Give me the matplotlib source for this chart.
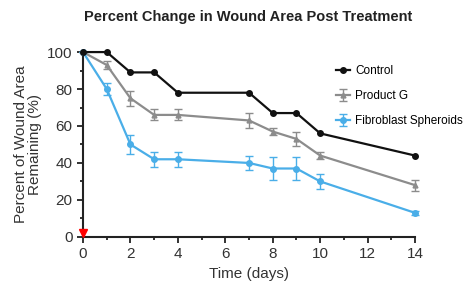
import numpy as np
import matplotlib
matplotlib.use('Agg')
import matplotlib.pyplot as plt
from matplotlib.ticker import MultipleLocator

plt.rcParams['font.family'] = ['Liberation Sans', 'DejaVu Sans']

days = [0, 1, 2, 3, 4, 7, 8, 9, 10, 14]
control = [100, 100, 89, 89, 78, 78, 67, 67, 56, 44]
product_g = [100, 93, 75, 66, 66, 63, 57, 53, 44, 28]
product_g_err = [0, 2, 4, 3, 3, 4, 2, 4, 2, 3]
spheroids = [100, 80, 50, 42, 42, 40, 37, 37, 30, 13]
spheroids_err = [0, 3, 5, 4, 4, 4, 6, 6, 4, 1]

fig = plt.figure(figsize=(4.69, 3.01), dpi=100)
ax = fig.add_axes([0.177, 0.213, 0.708, 0.614])

ax.plot(days, control, color='#111111', marker='o', markersize=4, lw=1.6, label='Control', clip_on=False, zorder=4)
ax.errorbar(days, product_g, yerr=product_g_err, color='#8c8c8c', marker='^', markersize=3.5, lw=1.6,
            capsize=3, elinewidth=1, label='Product G', clip_on=False, zorder=3)
ax.errorbar(days, spheroids, yerr=spheroids_err, color='#4aaee8', marker='o', markersize=4, lw=1.6,
            capsize=3, elinewidth=1, label='Fibroblast Spheroids', clip_on=False, zorder=3)
ax.plot([0], [2], marker='v', color='red', markersize=6, clip_on=False, zorder=5)

ax.set_xlim(0, 14)
ax.set_ylim(0, 100)
ax.xaxis.set_major_locator(MultipleLocator(2))
ax.xaxis.set_minor_locator(MultipleLocator(1))
ax.yaxis.set_major_locator(MultipleLocator(20))
ax.yaxis.set_minor_locator(MultipleLocator(10))
ax.spines['top'].set_visible(False)
ax.spines['right'].set_visible(False)
for s in ['left', 'bottom']:
    ax.spines[s].set_linewidth(1.5)
    ax.spines[s].set_color('#222222')
ax.tick_params(which='major', length=4, width=1.3, labelsize=11, colors='#222222', labelcolor='#333333')
ax.tick_params(which='minor', length=2.5, width=1.3, colors='#222222')

ax.set_xlabel('Time (days)', fontsize=11, color='#333333')
ax.set_ylabel('Percent of Wound Area\nRemaining (%)', fontsize=11, color='#333333', linespacing=0.95)
fig.text(0.53, 0.945, 'Percent Change in Wound Area Post Treatment', ha='center', va='center',
         fontsize=10.5, fontweight='bold', color='#222222')

ax.legend(loc='upper left', bbox_to_anchor=(0.73, 0.985), frameon=False, fontsize=8.5,
          handlelength=1.2, labelspacing=1.1, handletextpad=0.4)

fig.savefig('out.png', dpi=100)
